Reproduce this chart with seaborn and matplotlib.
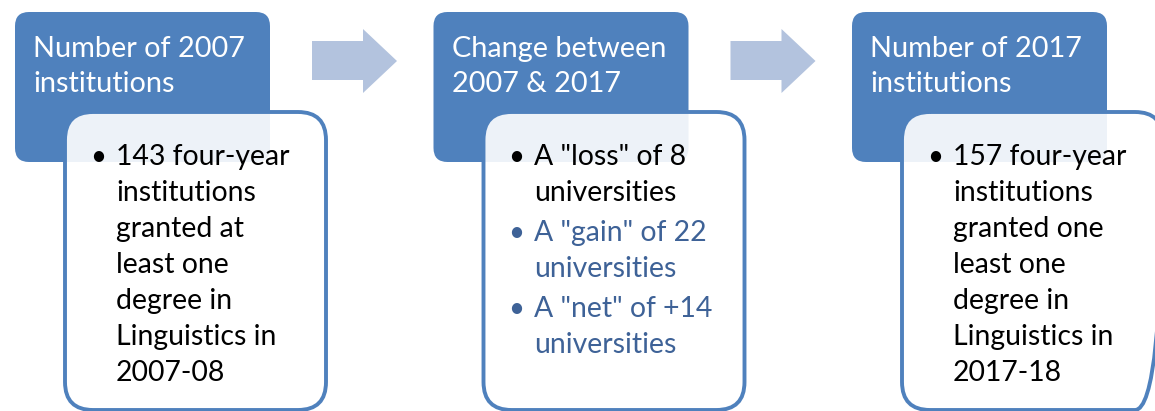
import matplotlib
matplotlib.use("Agg")
import matplotlib.pyplot as plt
from matplotlib.patches import FancyBboxPatch, Polygon
import seaborn as sns

# Diagram content
headers = [
    ["Number of 2007", "institutions"],
    ["Change between", "2007 & 2017"],
    ["Number of 2017", "institutions"],
]
bullets = [
    [["143 four-year", "institutions", "granted at", "least one", "degree in",
      "Linguistics in", "2007-08"]],
    [["A \"loss\" of 8", "universities"],
     ["A \"gain\" of 22", "universities"],
     ["A \"net\" of +14", "universities"]],
    [["157 four-year", "institutions", "granted one", "least one", "degree in",
      "Linguistics in", "2017-18"]],
]
bullet_colors = [
    ["#000000"],
    ["#000000", "#3E6297", "#3E6297"],
    ["#000000"],
]

HEADER_BLUE = "#4F81BD"
ARROW_BLUE = "#B3C3DE"

sns.set_theme(style="white")
plt.rcParams["font.family"] = ["Lato", "DejaVu Sans"]

fig = plt.figure(figsize=(11.55, 4.11), dpi=100)
ax = fig.add_axes([0, 0, 1, 1])
ax.set_xlim(0, 1155)
ax.set_ylim(411, 0)
ax.axis("off")

step = 418.5
for i, (head, paras, cols) in enumerate(zip(headers, bullets, bullet_colors)):
    x0 = 15 + i * step
    # header box
    ax.add_patch(FancyBboxPatch((x0, 12), 255, 150,
                                boxstyle="round,pad=0,rounding_size=14",
                                facecolor=HEADER_BLUE, edgecolor="none", zorder=1))
    for k, line in enumerate(head):
        ax.text(x0 + 18, 57 + k * 35, line, color="white", fontsize=20.8,
                va="baseline", ha="left", zorder=2)
    # detail box
    cx = x0 + 50
    ax.add_patch(FancyBboxPatch((cx, 112), 261, 298,
                                boxstyle="round,pad=0,rounding_size=28",
                                facecolor="white", alpha=0.9, edgecolor="none", zorder=3))
    ax.add_patch(FancyBboxPatch((cx, 112), 261, 298,
                                boxstyle="round,pad=0,rounding_size=28",
                                facecolor="none", edgecolor=HEADER_BLUE,
                                linewidth=2.8, zorder=4))
    y = 165
    for para, col in zip(paras, cols):
        ax.text(cx + 33, y - 8, "\u2022", color=col, fontsize=20,
                va="center", ha="center", zorder=5)
        for line in para:
            ax.text(cx + 51, y, line, color=col, fontsize=20.4,
                    va="baseline", ha="left", zorder=5)
            y += 36
        y += 4
    # arrow to next step
    if i < len(headers) - 1:
        ax0 = x0 + 297
        pts = [(ax0, 41), (ax0 + 51, 41), (ax0 + 51, 29), (ax0 + 85, 61),
               (ax0 + 51, 93), (ax0 + 51, 80), (ax0, 80)]
        ax.add_patch(Polygon(pts, closed=True, facecolor=ARROW_BLUE,
                             edgecolor="none", zorder=1))

fig.savefig("out.png", dpi=100)
